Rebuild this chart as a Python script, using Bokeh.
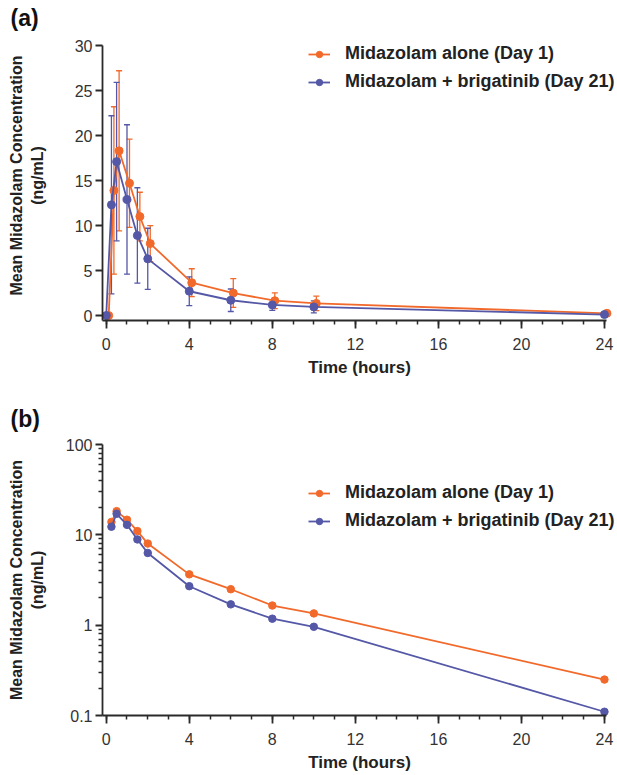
from bokeh.plotting import figure
from bokeh.models import (ColumnDataSource, Whisker, TeeHead, FixedTicker, Legend,
                          LegendItem, Range1d, CustomJSTickFormatter, Title)
from bokeh.transform import dodge
from bokeh.layouts import column
from bokeh.embed import file_html
from bokeh.resources import INLINE

# ---- data ----
time_h = [0, 0.25, 0.5, 1, 1.5, 2, 4, 6, 8, 10, 24]
alone_mean = [0, 13.9, 18.3, 14.7, 11.0, 8.0, 3.65, 2.5, 1.65, 1.35, 0.25]
alone_sd = [0, 9.3, 8.9, 4.9, 2.7, 2.0, 1.55, 1.6, 0.87, 0.8, 0.15]
brig_mean = [0, 12.3, 17.1, 12.9, 8.9, 6.3, 2.7, 1.7, 1.18, 0.96, 0.11]
brig_sd = [0, 9.9, 8.8, 8.3, 5.3, 3.4, 1.6, 1.25, 0.6, 0.67, 0.1]

series_labels = ["Midazolam alone (Day 1)", "Midazolam + brigatinib (Day 21)"]
x_ticks = [0, 4, 8, 12, 16, 20, 24]
x_minor = list(range(0, 25))
ya_ticks = [0, 5, 10, 15, 20, 25, 30]
yb_ticks = [0.1, 1, 10, 100]
yb_minor = [m * d for d in (0.1, 1, 10) for m in range(2, 10)]

# visible axis extents vs. (invisible) plotting-area extents
X_START, X_AXIS_END, X_VIEW_END = -0.18, 24.1, 24.58
YA_START, YA_AXIS_END, YA_VIEW_END = -0.55, 30, 31.67

ORANGE = "#F26A2B"
BLUE = "#5458A6"
AX = "#2a2a2a"
TXT = "#333333"
FONT = "Liberation Sans"
Y_TITLE = "Mean Midazolam Concentration\n(ng/mL)"


def style(p, yticks, yminor, y_standoff):
    p.outline_line_color = None
    p.xgrid.visible = False
    p.ygrid.visible = False
    p.background_fill_color = "white"
    p.border_fill_color = "white"
    xa = p.xaxis[0]
    ya = p.yaxis[0]
    xa.ticker = FixedTicker(ticks=x_ticks, minor_ticks=x_minor)
    ya.ticker = FixedTicker(ticks=yticks, minor_ticks=yminor)
    xa.bounds = (X_START, X_AXIS_END)
    for ax in (xa, ya):
        ax.axis_line_color = AX
        ax.axis_line_width = 1.8
        ax.major_tick_line_color = AX
        ax.major_tick_line_width = 1.8
        ax.minor_tick_line_color = AX
        ax.minor_tick_line_width = 1.5
        ax.major_tick_in = 0
        ax.minor_tick_in = 0
        ax.major_label_text_font = FONT
        ax.major_label_text_font_size = "16px"
        ax.major_label_text_color = TXT
        ax.axis_label_text_font = FONT
        ax.axis_label_text_font_style = "bold"
        ax.axis_label_text_color = "#222222"
    xa.major_tick_out = 8
    xa.minor_tick_out = 4
    xa.major_label_standoff = 9
    xa.axis_label = "Time (hours)"
    xa.axis_label_text_font_size = "17px"
    xa.axis_label_standoff = 5
    ya.major_tick_out = 7
    ya.minor_tick_out = 4
    ya.major_label_standoff = 3
    ya.axis_label = Y_TITLE
    ya.axis_label_text_font_size = "16px"
    ya.axis_label_standoff = y_standoff


def add_legend(p, items, vy):
    leg = Legend(items=items, location=(206, vy))
    leg.border_line_color = None
    leg.background_fill_alpha = 0
    leg.padding = 0
    leg.margin = 0
    leg.spacing = 7
    leg.glyph_width = 22
    leg.glyph_height = 16
    leg.label_height = 16
    leg.label_standoff = 15
    leg.label_text_font = FONT
    leg.label_text_font_style = "bold"
    leg.label_text_font_size = "18px"
    leg.label_text_color = "#222222"
    p.add_layout(leg)


def panel_title(text, standoff):
    return Title(text=text, align="left", offset=-92, standoff=standoff,
                 text_font=FONT, text_font_size="23px", text_font_style="bold",
                 text_color="#111111")


# ================= panel (a): linear =================
pa = figure(width=616, height=384, output_backend="svg", toolbar_location=None,
            x_range=Range1d(X_START, X_VIEW_END), y_range=Range1d(YA_START, YA_VIEW_END),
            min_border_left=102, min_border_right=0, min_border_top=30,
            min_border_bottom=64)
pa.title = panel_title("(a)", 0)
style(pa, ya_ticks, [], 26)
pa.yaxis[0].bounds = (YA_START, YA_AXIS_END)

src_o = ColumnDataSource(dict(x=time_h, y=alone_mean,
                              lo=[m - s for m, s in zip(alone_mean, alone_sd)],
                              hi=[m + s for m, s in zip(alone_mean, alone_sd)]))
src_b = ColumnDataSource(dict(x=time_h, y=brig_mean,
                              lo=[m - s for m, s in zip(brig_mean, brig_sd)],
                              hi=[m + s for m, s in zip(brig_mean, brig_sd)]))
err_o = ColumnDataSource(dict(x=time_h[1:], lo=src_o.data["lo"][1:], hi=src_o.data["hi"][1:]))
err_b = ColumnDataSource(dict(x=time_h[1:], lo=src_b.data["lo"][1:], hi=src_b.data["hi"][1:]))

xo = dodge("x", 0.12, range=pa.x_range)

wo = Whisker(source=err_o, base=xo, lower="lo", upper="hi", dimension="height",
             line_color=ORANGE, line_width=1.3,
             upper_head=TeeHead(size=6, line_color=ORANGE, line_width=1.3),
             lower_head=TeeHead(size=6, line_color=ORANGE, line_width=1.3))
pa.add_layout(wo)
lo_line = pa.line(x=xo, y="y", source=src_o, line_color=ORANGE, line_width=1.8)
lo_pts = pa.scatter(x=xo, y="y", source=src_o, size=8, fill_color=ORANGE,
                    line_color=ORANGE)

wb = Whisker(source=err_b, base="x", lower="lo", upper="hi", dimension="height",
             line_color=BLUE, line_width=1.3,
             upper_head=TeeHead(size=6, line_color=BLUE, line_width=1.3),
             lower_head=TeeHead(size=6, line_color=BLUE, line_width=1.3))
pa.add_layout(wb)
lb_line = pa.line(x="x", y="y", source=src_b, line_color=BLUE, line_width=1.8)
lb_pts = pa.scatter(x="x", y="y", source=src_b, size=8, fill_color=BLUE,
                    line_color=BLUE)

add_legend(pa, [LegendItem(label=series_labels[0], renderers=[lo_line, lo_pts]),
                LegendItem(label=series_labels[1], renderers=[lb_line, lb_pts])], 228)

# ================= panel (b): log =================
pb = figure(width=616, height=390, output_backend="svg", toolbar_location=None,
            y_axis_type="log",
            x_range=Range1d(X_START, X_VIEW_END), y_range=Range1d(0.1, 100),
            min_border_left=102, min_border_right=0, min_border_top=60,
            min_border_bottom=58)
pb.title = panel_title("(b)", 26)
style(pb, yb_ticks, yb_minor, 17)
pb.yaxis[0].formatter = CustomJSTickFormatter(
    code="return tick >= 1 ? tick.toFixed(0) : tick.toFixed(1);")

srcl_o = ColumnDataSource(dict(x=time_h[1:], y=alone_mean[1:]))
srcl_b = ColumnDataSource(dict(x=time_h[1:], y=brig_mean[1:]))
bo_line = pb.line("x", "y", source=srcl_o, line_color=ORANGE, line_width=1.8)
bo_pts = pb.scatter("x", "y", source=srcl_o, size=7.5, fill_color=ORANGE,
                    line_color=ORANGE)
bb_line = pb.line("x", "y", source=srcl_b, line_color=BLUE, line_width=1.8)
bb_pts = pb.scatter("x", "y", source=srcl_b, size=7.5, fill_color=BLUE,
                    line_color=BLUE)

add_legend(pb, [LegendItem(label=series_labels[0], renderers=[bo_line, bo_pts]),
                LegendItem(label=series_labels[1], renderers=[bb_line, bb_pts])], 184)

layout = column(pa, pb, spacing=0)
open("out.html", "w").write(file_html(layout, INLINE))
